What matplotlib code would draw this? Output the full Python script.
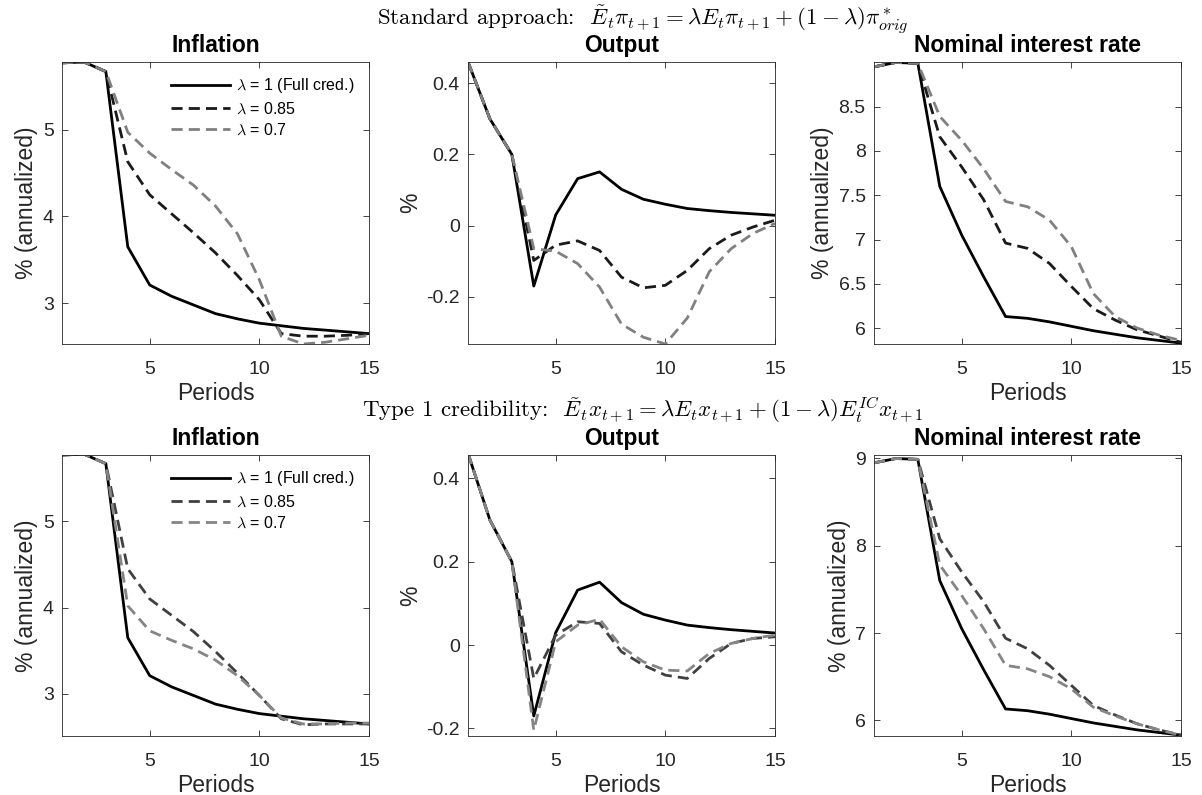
import numpy as np
import matplotlib
matplotlib.use("Agg")
import matplotlib.pyplot as plt
from matplotlib.ticker import FuncFormatter

plt.rcParams["font.family"] = ["Liberation Sans", "DejaVu Sans"]
plt.rcParams["mathtext.fontset"] = "cm"
plt.rcParams["axes.unicode_minus"] = False

periods = np.arange(1, 16)

# Standard approach
pi_std_full = [5.77, 5.78, 5.67, 3.65, 3.21, 3.08, 2.98, 2.88, 2.82, 2.77, 2.74, 2.71, 2.69, 2.67, 2.65]
pi_std_085 = [5.77, 5.78, 5.67, 4.63, 4.25, 4.03, 3.81, 3.58, 3.32, 3.04, 2.65, 2.62, 2.62, 2.63, 2.65]
pi_std_070 = [5.77, 5.78, 5.67, 4.97, 4.73, 4.54, 4.36, 4.12, 3.80, 3.27, 2.62, 2.53, 2.55, 2.59, 2.63]

y_std_full = [0.46, 0.30, 0.20, -0.17, 0.03, 0.132, 0.151, 0.102, 0.074, 0.06, 0.048, 0.042, 0.037, 0.033, 0.029]
y_std_085 = [0.46, 0.30, 0.20, -0.098, -0.055, -0.043, -0.07, -0.145, -0.175, -0.168, -0.126, -0.065, -0.027, -0.004, 0.015]
y_std_070 = [0.46, 0.30, 0.20, -0.065, -0.072, -0.107, -0.173, -0.277, -0.314, -0.333, -0.26, -0.13, -0.065, -0.022, 0.006]

i_std_full = [8.95, 9.00, 8.99, 7.60, 7.05, 6.58, 6.13, 6.11, 6.07, 6.02, 5.97, 5.93, 5.89, 5.86, 5.83]
i_std_085 = [8.95, 9.00, 8.99, 8.16, 7.82, 7.45, 6.96, 6.90, 6.73, 6.47, 6.22, 6.09, 5.98, 5.91, 5.84]
i_std_070 = [8.95, 9.00, 8.99, 8.39, 8.12, 7.80, 7.43, 7.37, 7.22, 6.92, 6.39, 6.13, 6.00, 5.92, 5.86]

# Type 1 credibility
pi_t1_full = pi_std_full
pi_t1_085 = [5.77, 5.78, 5.67, 4.45, 4.10, 3.91, 3.72, 3.49, 3.24, 2.98, 2.71, 2.64, 2.65, 2.65, 2.65]
pi_t1_070 = [5.77, 5.78, 5.67, 4.02, 3.73, 3.62, 3.52, 3.39, 3.21, 2.98, 2.72, 2.65, 2.65, 2.66, 2.66]

y_t1_full = y_std_full
y_t1_085 = [0.46, 0.30, 0.20, -0.08, 0.024, 0.056, 0.052, -0.016, -0.048, -0.072, -0.08, -0.032, 0.004, 0.016, 0.02]
y_t1_070 = [0.46, 0.30, 0.20, -0.204, 0.008, 0.048, 0.062, -0.004, -0.04, -0.06, -0.062, -0.02, 0.004, 0.016, 0.024]

i_t1_full = i_std_full
i_t1_085 = [8.95, 9.00, 8.99, 8.08, 7.70, 7.36, 6.94, 6.82, 6.63, 6.40, 6.17, 6.06, 5.96, 5.89, 5.83]
i_t1_070 = [8.95, 9.00, 8.99, 7.78, 7.43, 7.05, 6.63, 6.59, 6.50, 6.36, 6.15, 6.05, 5.96, 5.89, 5.83]

labels = [r"$\lambda$ = 1 (Full cred.)", r"$\lambda$ = 0.85", r"$\lambda$ = 0.7"]
titles = ["Inflation", "Output", "Nominal interest rate"]
ylabels = ["% (annualized)", "%", "% (annualized)"]

rows = [
    [(pi_std_full, pi_std_085, pi_std_070), (y_std_full, y_std_085, y_std_070), (i_std_full, i_std_085, i_std_070)],
    [(pi_t1_full, pi_t1_085, pi_t1_070), (y_t1_full, y_t1_085, y_t1_070), (i_t1_full, i_t1_085, i_t1_070)],
]
yticks = [
    [[3, 4, 5], [-0.2, 0, 0.2, 0.4], [6, 6.5, 7, 7.5, 8, 8.5]],
    [[3, 4, 5], [-0.2, 0, 0.2, 0.4], [6, 7, 8, 9]],
]
ylims = [
    [(2.53, 5.78), (-0.333, 0.46), (5.82, 9.005)],
    [(2.51, 5.77), (-0.218, 0.456), (5.82, 9.04)],
]
row_colors = [("k", "#1a1a1a", "#808080"), ("k", "#404040", "#858585")]

W, H = 1202, 795
col_left = [62, 468, 874]
col_w = 307
row_top = [62, 455]
row_h = [282, 281]

fig = plt.figure(figsize=(W / 100, H / 100), dpi=100)
fig.patch.set_facecolor("white")

for r in range(2):
    for c in range(3):
        ax = fig.add_axes([col_left[c] / W, 1 - (row_top[r] + row_h[r]) / H, col_w / W, row_h[r] / H])
        full, l085, l070 = rows[r][c]
        cols = row_colors[r]
        ax.plot(periods, full, color=cols[0], lw=2.0, label=labels[0])
        ax.plot(periods, l085, color=cols[1], lw=2.0, dashes=(4, 2.2), label=labels[1])
        ax.plot(periods, l070, color=cols[2], lw=2.0, dashes=(4, 2.2), label=labels[2])

        ax.set_xlim(1, 15)
        ax.set_ylim(*ylims[r][c])
        ax.set_xticks([5, 10, 15])
        ax.set_yticks(yticks[r][c])
        ax.yaxis.set_major_formatter(FuncFormatter(lambda v, p: f"{v:g}"))
        ax.tick_params(direction="in", top=True, right=True, length=4, width=0.6,
                       colors="#262626", labelsize=14, labelcolor="#262626")
        ax.tick_params(axis="x", pad=12)
        ax.tick_params(axis="y", pad=6)
        for s in ax.spines.values():
            s.set_color("#262626")
            s.set_linewidth(0.6)

        ax.set_title(titles[c], fontsize=16.5, fontweight="bold", pad=7)
        # the middle top "Periods" is hidden under the row-2 heading in the original
        if not (r == 0 and c == 1):
            ax.set_xlabel("Periods", fontsize=16.5, color="#262626", labelpad=3)
        ax.set_ylabel(ylabels[c], fontsize=16.5, color="#262626", labelpad=3)

        if c == 0:
            ax.legend(loc="upper right", frameon=False, fontsize=11.5, handlelength=3.7,
                      handletextpad=0.4, labelspacing=0.35, borderaxespad=0.5)

fig.text(0.535, 1 - 25 / H,
         r"Standard approach:  $\tilde{E}_t\pi_{t+1} = \lambda E_t\pi_{t+1} + (1-\lambda)\pi^*_{orig}$",
         family="cmr10", ha="center", va="baseline", fontsize=16.5)
fig.text(0.535, 1 - 417 / H,
         r"Type 1 credibility:  $\tilde{E}_t x_{t+1} = \lambda E_t x_{t+1} + (1-\lambda)E_t^{IC} x_{t+1}$",
         family="cmr10", ha="center", va="baseline", fontsize=16.5)

fig.savefig("out.png", dpi=100)
